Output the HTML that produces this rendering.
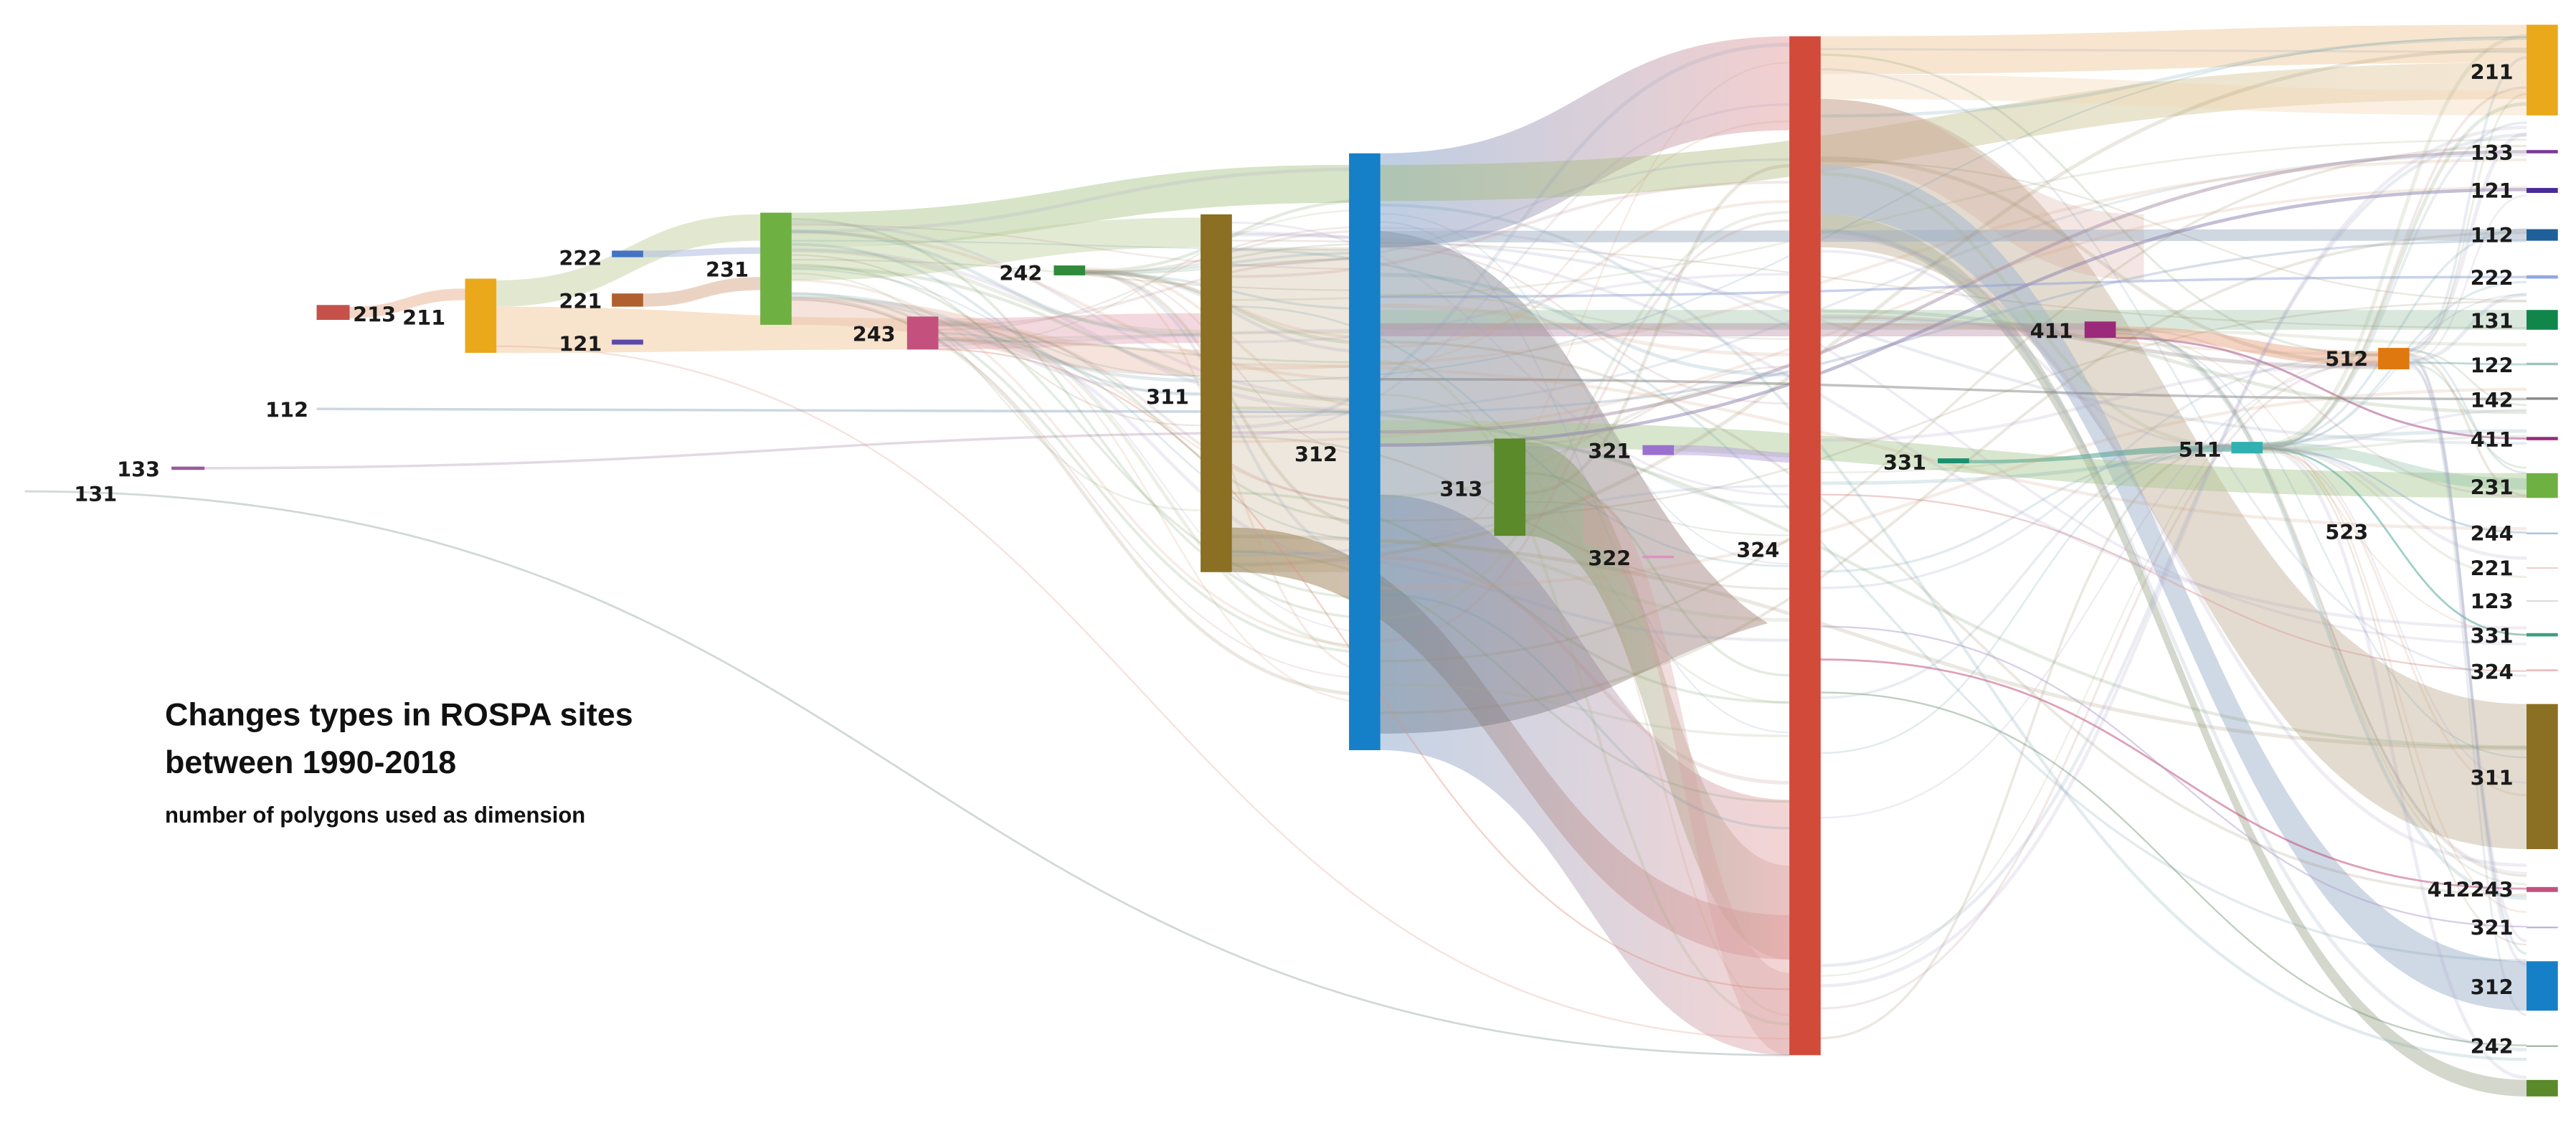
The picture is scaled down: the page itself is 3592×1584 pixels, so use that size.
<!DOCTYPE html>
<html><head><meta charset="utf-8">
<style>
html,body{margin:0;padding:0;background:#fff;}
svg{display:block;}
.l{font-family:"DejaVu Sans","Liberation Sans",sans-serif;font-weight:bold;font-size:12.5px;fill:#1a1a1a;}
.t{font-family:"Liberation Sans",sans-serif;fill:#111;}
</style></head>
<body>
<svg id="s" width="3592" height="1584" viewBox="0 0 1562 689" preserveAspectRatio="none" xmlns="http://www.w3.org/2000/svg">
<defs>
<linearGradient id="gBR" x1="0" x2="1"><stop offset="0" stop-color="#7d9ec8"/><stop offset="1" stop-color="#e6a0a0"/></linearGradient>
<linearGradient id="gGR" x1="0" x2="1"><stop offset="0" stop-color="#9cb87a"/><stop offset="1" stop-color="#e9c9a0"/></linearGradient>
<linearGradient id="gOR" x1="0" x2="1"><stop offset="0" stop-color="#8f7a4a"/><stop offset="1" stop-color="#e6a2a2"/></linearGradient>
<linearGradient id="gDK" x1="0" x2="1"><stop offset="0" stop-color="#5d7488"/><stop offset="1" stop-color="#9a6a60"/></linearGradient>
<linearGradient id="gGB" x1="0" x2="1"><stop offset="0" stop-color="#5f8a3a"/><stop offset="1" stop-color="#d9a0a0"/></linearGradient>
</defs>
<g id="bands"></g>
<g id="lines"></g>
<g id="nodes"></g>
<g id="labels"></g>
<text class="t" x="100" y="440" font-size="19.5" font-weight="bold">Changes types in ROSPA sites</text>
<text class="t" x="100" y="469" font-size="19.5" font-weight="bold">between 1990-2018</text>
<text class="t" x="100" y="499" font-size="13.5" font-weight="bold" fill="#222">number of polygons used as dimension</text>
</svg>
<script>
var NS="http://www.w3.org/2000/svg";
function el(p,t,a){var e=document.createElementNS(NS,t);for(var k in a)e.setAttribute(k,a[k]);document.getElementById(p).appendChild(e);return e;}
function band(x0,a0,b0,x1,a1,b1,fill,op){
  var m=(x0+x1)/2;
  var d="M"+x0+","+a0+" C"+m+","+a0+" "+m+","+a1+" "+x1+","+a1+" L"+x1+","+b1+" C"+m+","+b1+" "+m+","+b0+" "+x0+","+b0+" Z";
  el("bands","path",{d:d,fill:fill,"fill-opacity":op||0.4});
}
function line(x0,y0,x1,y1,c,w,op){
  var m=(x0+x1)/2;
  el("lines","path",{d:"M"+x0+","+y0+" C"+m+","+y0+" "+m+","+y1+" "+x1+","+y1,fill:"none",stroke:c,"stroke-width":w||1,"stroke-opacity":op||0.35});
}
band(301,170,186,461,130,146,"#c9d6a8",0.55);
band(301,186,214,550,193,212,"#f1c79a",0.5);
band(212,186,193,282,175,182,"#e8b090",0.5);
band(390,152,156,461,150,154,"#aab8e0",0.5);
band(390,178,186,461,168,176,"#d7a888",0.5);
band(480,129,150,818,100,123,"#b7cd9a",0.55);
band(480,150,170,728,132,150,"#c2d0a0",0.45);
band(569,193,212,728,190,208,"#e5a8b8",0.45);
band(480,180,197,728,212,228,"#e7b8a8",0.4);
band(837,93,150,1085,22,79,"url(#gBR)",0.5);
band(837,100,122,1532,38,60,"url(#gGR)",0.45);
band(1104,22,45,1532,15,38,"#f0cfa8",0.55);
band(1104,45,60,1532,55,70,"#f2d6b4",0.4);
band(747,150,347,818,150,347,"#d9c9b4",0.45);
band(747,320,347,1085,555,582,"url(#gOR)",0.5);
band(837,300,455,1085,485,640,"url(#gBR)",0.45);
el("bands","path",{d:"M837,140 C960,150 980,320 1072,378 C990,400 960,445 837,445 Z",fill:"url(#gDK)","fill-opacity":0.4});
band(925,268,325,1085,525,582,"url(#gGB)",0.35);
band(960,300,330,1085,590,640,"#d8a0a0",0.35);
band(1104,60,150,1532,427,515,"#c8b8a0",0.5);
band(1104,100,130,1532,583,613,"#a8b8d0",0.55);
band(1104,130,142,1532,655,665,"#b8bca8",0.6);
band(1104,60,100,1300,130,170,"#d49a90",0.25);
band(837,140,147,1532,139,146,"#9fb0c4",0.5);
band(837,188,200,1532,188,200,"#9fc4a8",0.4);
band(837,255,270,1532,287,302,"#a8c890",0.45);
band(1283,198,205,1442,213,222,"#eca888",0.5);
band(837,196,204,1264,196,204,"#b07a98",0.35);
band(1015,270,276,1104,275,281,"#b8a0e0",0.5);
band(1194,279,281,1353,270,274,"#40a090",0.5);
band(1372,268,275,1532,290,297,"#8cc0a0",0.35);
line(15,298,1085,640,"#9aa8a8",1.2,0.45);
line(192,248,837,250,"#9ab0c8",1.5,0.5);
line(104,284,837,262,"#c0a8c0",1.5,0.45);
line(837,250,1532,146,"#9ab0c8",1.5,0.4);
line(837,262,1532,92,"#a890a8",2,0.5);
line(837,270,1532,115,"#8a80b0",2,0.5);
line(837,180,1532,168,"#8898d0",1.5,0.45);
line(837,230,1532,242,"#777",1.5,0.45);
line(1283,205,1532,266,"#a04080",1.3,0.5);
line(1461,220,1532,221,"#80b0b0",1.2,0.5);
line(1372,272,1532,323,"#9ab8d0",1.2,0.5);
line(1372,272,1532,385,"#40a090",1.2,0.5);
line(1104,300,1532,407,"#e0a0a0",1,0.5);
line(1104,400,1532,539,"#c04070",1.2,0.5);
line(1104,380,1532,562,"#b0a0d0",1,0.5);
line(1104,420,1532,634,"#80a080",1,0.5);
line(569,212,1085,600,"#e09080",1,0.4);
line(301,210,1085,630,"#e0a090",1,0.3);
var cols=["#7a9a6a","#8fa0b8","#c08a8a","#9a8a6a","#6a9aa8","#b0a0c8","#a0b080","#d0a080"];
var seed=7;function r(){seed=(seed*9301+49297)%233280;return seed/233280;}
var xs=[[480,728],[480,837],[569,837],[658,837],[747,1085],[837,1085],[837,1532],[747,1532],[925,1085],[1104,1532],[1104,1442],[1104,1353],[1283,1532],[1372,1532],[1461,1532]];
for(var i=0;i<170;i++){
  var p=xs[Math.floor(r()*xs.length)];
  var y0,y1;
  if(p[0]==480)y0=132+r()*63;else if(p[0]==569)y0=195+r()*15;else if(p[0]==658)y0=162+r()*5;
  else if(p[0]==747)y0=135+r()*210;else if(p[0]==837)y0=98+r()*350;else if(p[0]==925)y0=268+r()*55;
  else if(p[0]==1104)y0=25+r()*610;else if(p[0]==1283)y0=196+r()*8;else if(p[0]==1372)y0=269+r()*5;else y0=212+r()*11;
  if(p[1]==1532)y1=20+r()*640;else if(p[1]==1085)y1=25+r()*610;else if(p[1]==728)y1=135+r()*210;else if(p[1]==837)y1=98+r()*350;else if(p[1]==1442)y1=213+r()*10;else y1=269+r()*5;
  line(p[0],y0,p[1],y1,cols[Math.floor(r()*cols.length)],0.9+r()*1.4,0.2);
}
function node(x,y,w,h,c){el("nodes","rect",{x:x,y:y,width:w,height:h,fill:c});}
node(192,185,20,9,"#c5514a");
node(282,169,19,45,"#eaa91a");
node(371,152,19,4,"#4472c4");
node(371,178,19,8,"#b0602e");
node(371,206,19,3,"#5a4aaa");
node(461,129,19,68,"#6fb043");
node(639,161,19,6,"#2f8a3a");
node(550,192,19,20,"#c4507e");
node(728,130,19,217,"#8b6f22");
node(104,283,20,2,"#9a5a9a");
node(818,93,19,362,"#1580c8");
node(906,266,19,59,"#5a8a2a");
node(996,270,19,6,"#9a70d0");
node(996,337,19,1.5,"#e090c0");
node(1085,22,19,618,"#d24a3a");
node(1175,278,19,3,"#1a9070");
node(1264,195,19,10,"#9c2a7a");
node(1353,268,19,7,"#30b0b0");
node(1442,211,19,13,"#e07810");
var R=[[15,55,"#eaa91a"],[91,2,"#7a3a9a"],[114,3,"#4a2a9a"],[139,7,"#1f5f9a"],[167,2,"#90a8e0"],[188,12,"#10864a"],[220,1.5,"#a0c0c0"],[241,1.5,"#888"],[265,2,"#9c2a7a"],[287,15,"#6fb043"],[323,1,"#a0c0e0"],[344,1,"#f0d0d0"],[364,1,"#ddd"],[384,2,"#3aa080"],[406,1,"#f0b0b0"],[427,88,"#8b6f22"],[538,3,"#c4507e"],[562,1,"#c0b0e0"],[583,30,"#1580c8"],[634,1,"#a0b8a0"],[655,10,"#5a8a2a"]];
R.forEach(function(n){node(1532,n[0],19,n[1],n[2]);});
function lab(x,y,t,a){var e=el("labels","text",{x:x,y:y,"class":"l","text-anchor":a||"end"});e.textContent=t;}
lab(214,195,"213","start");lab(244,197,"211","start");
lab(365,161,"222");lab(365,187,"221");lab(365,213,"121");
lab(454,168,"231");lab(632,170,"242");lab(543,207,"243");
lab(721,245,"311");lab(187,253,"112");lab(97,289,"133");lab(71,304,"131");
lab(811,280,"312");lab(899,301,"313");lab(989,278,"321");lab(989,343,"322");lab(1079,338,"324");
lab(1168,285,"331");lab(1257,205,"411");lab(1347,277,"511");lab(1436,222,"512");lab(1436,327,"523");
var RL=[[48,"211"],[97,"133"],[120,"121"],[147,"112"],[173,"222"],[199,"131"],[226,"122"],[247,"142"],[271,"411"],[300,"231"],[328,"244"],[349,"221"],[369,"123"],[390,"331"],[412,"324"],[476,"311"],[544,"412243"],[567,"321"],[603,"312"],[639,"242"]];
RL.forEach(function(n){lab(1524,n[0],n[1]);});
</script>
</body></html>
